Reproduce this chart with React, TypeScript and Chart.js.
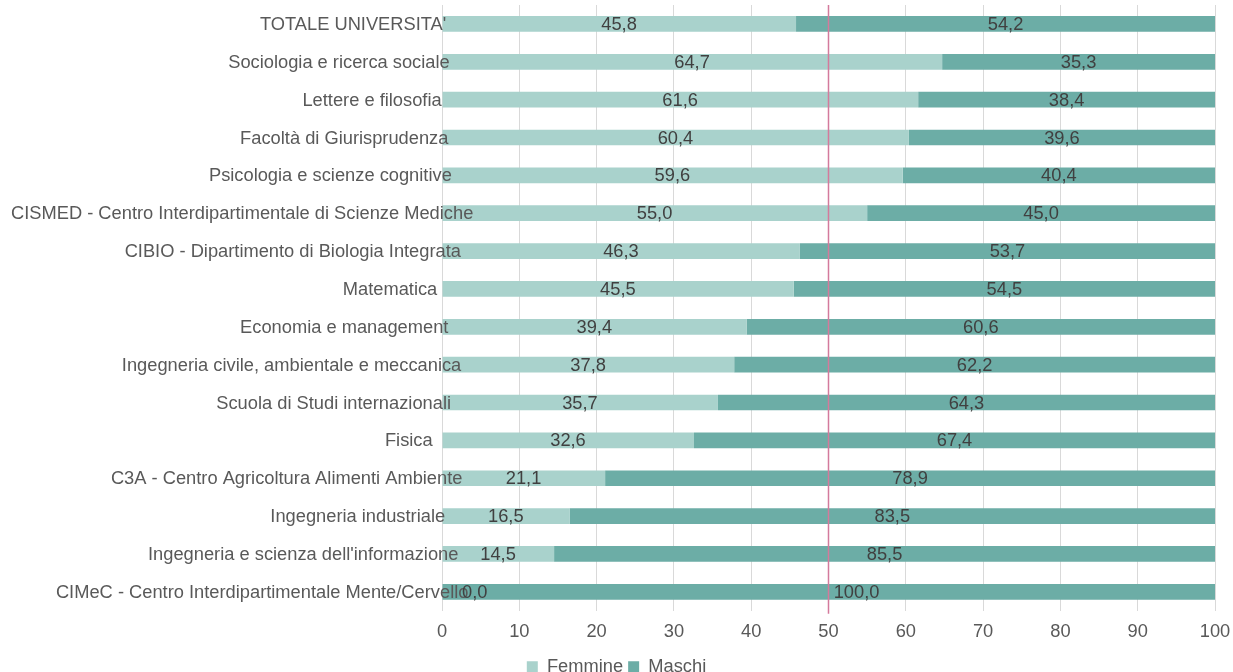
import React, { useEffect, useRef } from "react";
import { Chart, registerables } from "chart.js";

Chart.register(...registerables);

const categories = [
  "TOTALE UNIVERSITA'",
  "Sociologia e ricerca sociale",
  "Lettere e filosofia",
  "Facoltà di Giurisprudenza",
  "Psicologia e scienze cognitive",
  "CISMED - Centro Interdipartimentale di Scienze Mediche",
  "CIBIO - Dipartimento di Biologia Integrata",
  "Matematica",
  "Economia e management",
  "Ingegneria civile, ambientale e meccanica",
  "Scuola di Studi internazionali",
  "Fisica",
  "C3A - Centro Agricoltura Alimenti Ambiente",
  "Ingegneria industriale",
  "Ingegneria e scienza dell'informazione",
  "CIMeC - Centro Interdipartimentale Mente/Cervello",
];

const femmine = [45.8, 64.7, 61.6, 60.4, 59.6, 55.0, 46.3, 45.5, 39.4, 37.8, 35.7, 32.6, 21.1, 16.5, 14.5, 0.0];
const maschi = [54.2, 35.3, 38.4, 39.6, 40.4, 45.0, 53.7, 54.5, 60.6, 62.2, 64.3, 67.4, 78.9, 83.5, 85.5, 100.0];

const seriesNames = ["Femmine", "Maschi"];
const xTicks = [0, 10, 20, 30, 40, 50, 60, 70, 80, 90, 100];
const referenceValue = 50;

const FONT = "'Liberation Sans', Arial, sans-serif";
const FS = 18.3;

const fmt = (v: number) => v.toFixed(1).replace(".", ",");

const labelPlugin = {
  id: "segLabels",
  afterDatasetsDraw(chart: any) {
    const ctx = chart.ctx;
    ctx.save();
    ctx.font = `${FS}px ${FONT}`;
    ctx.textBaseline = "middle";
    // category labels (drawn over the bars, as in the reference)
    const ys = chart.scales.y;
    ctx.fillStyle = "#595959";
    ctx.textAlign = "right";
    chart.data.labels.forEach((lab: string, i: number) => {
      const w = ctx.measureText(lab).width;
      ctx.fillText(lab, chart.chartArea.left - 14 + 0.098 * w, ys.getPixelForTick(i) + 1);
    });
    // value labels
    ctx.fillStyle = "#404040";
    ctx.textAlign = "center";
    const xs = chart.scales.x;
    const nRows = chart.data.labels.length;
    for (let i = 0; i < nRows; i++) {
      const hasZero = chart.data.datasets.some((d: any) => d.data[i] === 0);
      let start = 0;
      chart.data.datasets.forEach((ds: any, di: number) => {
        const bar = chart.getDatasetMeta(di).data[i];
        const v = ds.data[i];
        const w = ctx.measureText(fmt(v)).width;
        let cx = xs.getPixelForValue(start + v / 2);
        if (v === 0) cx = xs.getPixelForValue(start) + w / 2 + 20;
        else if (hasZero) cx += 28;
        ctx.fillText(fmt(v), cx, bar.y + 1);
        start += v;
      });
    }
    ctx.restore();
  },
};

const refLinePlugin = {
  id: "refLine",
  afterDatasetsDraw(chart: any) {
    const { ctx, chartArea } = chart;
    const x = chart.scales.x.getPixelForValue(referenceValue);
    ctx.save();
    ctx.strokeStyle = "#D47A9C";
    ctx.lineWidth = 1.5;
    ctx.beginPath();
    ctx.moveTo(x, chartArea.top);
    ctx.lineTo(x, chartArea.bottom + 3);
    ctx.stroke();
    ctx.restore();
  },
};

export default function App() {
  const ref = useRef<HTMLCanvasElement | null>(null);
  useEffect(() => {
    document.body.style.margin = "0";
    const chart = new Chart(ref.current as HTMLCanvasElement, {
      type: "bar",
      data: {
        labels: categories,
        datasets: [
          {
            label: seriesNames[0],
            data: femmine,
            backgroundColor: "#A9D2CC",
            barPercentage: 0.415,
            categoryPercentage: 1,
          },
          {
            label: seriesNames[1],
            data: maschi,
            backgroundColor: "#6CADA6",
            barPercentage: 0.415,
            categoryPercentage: 1,
          },
        ],
      },
      options: {
        indexAxis: "y",
        animation: false,
        responsive: false,
        maintainAspectRatio: false,
        layout: { padding: { top: 5, right: 0, bottom: 0, left: 0 } },
        plugins: {
          legend: {
            position: "bottom",
            labels: {
              font: { family: FONT, size: FS },
              color: "#595959",
              boxWidth: 11,
              boxHeight: 11,
              padding: 5,
            },
          },
          tooltip: { enabled: false },
        },
        scales: {
          x: {
            stacked: true,
            min: 0,
            max: 100,
            afterBuildTicks: (scale: any) => {
              scale.ticks = xTicks.map((v) => ({ value: v }));
            },
            afterFit: (scale: any) => {
              scale.paddingRight = 18;
              scale.paddingLeft = 0;
            },
            grid: { color: "#D9D9D9", drawTicks: false, lineWidth: 1 },
            border: { display: false },
            ticks: {
              font: { family: FONT, size: FS },
              color: "#595959",
              padding: 10,
            },
          },
          y: {
            stacked: true,
            grid: { display: false, drawTicks: false },
            border: { display: false },
            afterFit: (scale: any) => {
              scale.width = 442;
            },
            ticks: { display: false, autoSkip: false },
          },
        },
      },
      plugins: [labelPlugin, refLinePlugin],
    } as any);
    return () => chart.destroy();
  }, []);
  return (
    <div style={{ width: 1233, height: 672, overflow: "hidden" }}>
      <canvas ref={ref} width={1233} height={686} style={{ display: "block" }} />
    </div>
  );
}
